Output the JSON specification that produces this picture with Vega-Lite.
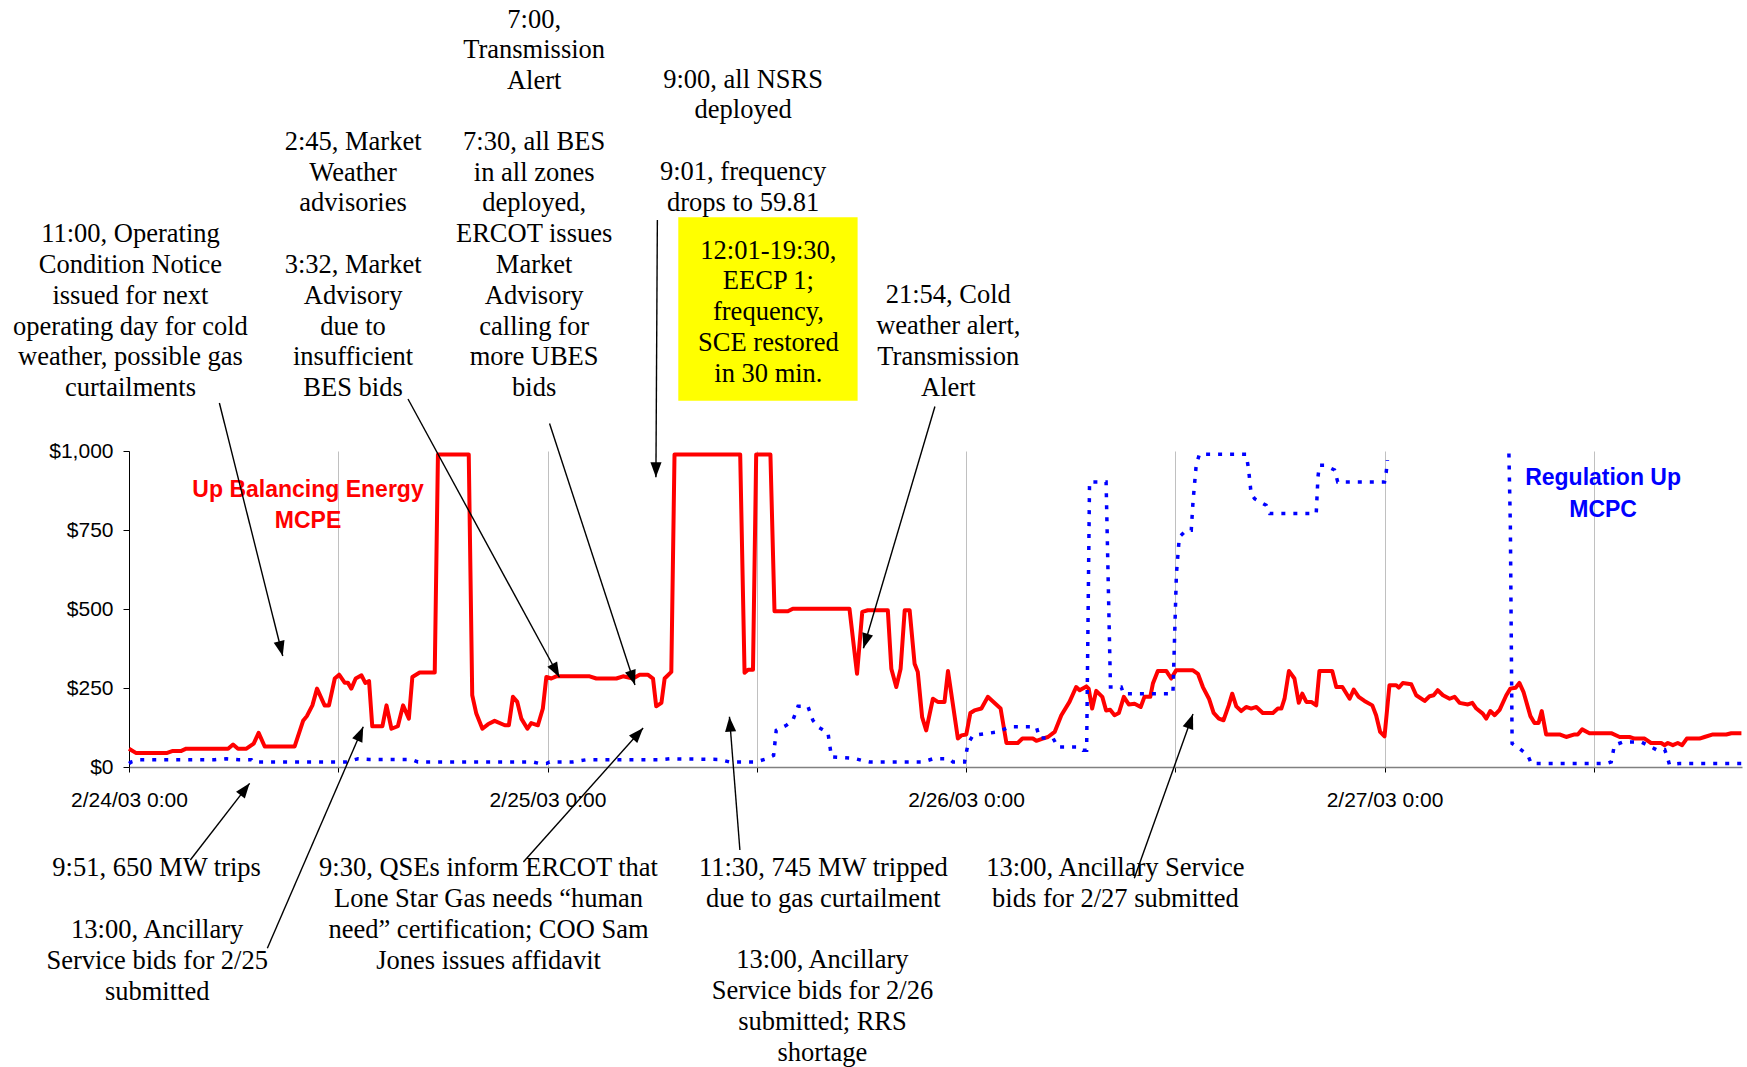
{
  "$schema": "https://vega.github.io/schema/vega-lite/v6.json",
  "autosize": {"type": "none"},
  "padding": {"left": 129, "top": 451, "right": 5, "bottom": 300},
  "width": 1613,
  "height": 316,
  "background": "white",
  "config": {"view": {"stroke": null}},
  "datasets": {
    "upBalancingEnergyMCPE": [
      {"time":"2003-02-24T00:00","price":58},{"time":"2003-02-24T00:25","price":44},{"time":"2003-02-24T02:09","price":44},{"time":"2003-02-24T02:31","price":51},{"time":"2003-02-24T03:00","price":51},{"time":"2003-02-24T03:17","price":58},{"time":"2003-02-24T05:41","price":58},{"time":"2003-02-24T05:58","price":71},{"time":"2003-02-24T06:15","price":58},{"time":"2003-02-24T06:44","price":58},{"time":"2003-02-24T07:09","price":74},{"time":"2003-02-24T07:26","price":108},{"time":"2003-02-24T07:47","price":65},{"time":"2003-02-24T09:30","price":65},{"time":"2003-02-24T09:59","price":146},{"time":"2003-02-24T10:12","price":161},{"time":"2003-02-24T10:31","price":195},{"time":"2003-02-24T10:47","price":248},{"time":"2003-02-24T11:13","price":195},{"time":"2003-02-24T11:28","price":195},{"time":"2003-02-24T11:48","price":280},{"time":"2003-02-24T12:03","price":292},{"time":"2003-02-24T12:22","price":267},{"time":"2003-02-24T12:33","price":267},{"time":"2003-02-24T12:45","price":248},{"time":"2003-02-24T13:00","price":280},{"time":"2003-02-24T13:20","price":290},{"time":"2003-02-24T13:33","price":266},{"time":"2003-02-24T13:46","price":272},{"time":"2003-02-24T13:57","price":129},{"time":"2003-02-24T14:32","price":129},{"time":"2003-02-24T14:46","price":195},{"time":"2003-02-24T15:03","price":121},{"time":"2003-02-24T15:25","price":129},{"time":"2003-02-24T15:43","price":195},{"time":"2003-02-24T16:03","price":153},{"time":"2003-02-24T16:15","price":285},{"time":"2003-02-24T16:40","price":299},{"time":"2003-02-24T17:32","price":299},{"time":"2003-02-24T17:43","price":989},{"time":"2003-02-24T19:29","price":989},{"time":"2003-02-24T19:41","price":227},{"time":"2003-02-24T19:55","price":169},{"time":"2003-02-24T20:16","price":121},{"time":"2003-02-24T20:35","price":135},{"time":"2003-02-24T20:58","price":146},{"time":"2003-02-24T21:33","price":132},{"time":"2003-02-24T21:47","price":132},{"time":"2003-02-24T22:01","price":222},{"time":"2003-02-24T22:16","price":206},{"time":"2003-02-24T22:30","price":153},{"time":"2003-02-24T22:51","price":121},{"time":"2003-02-24T23:04","price":139},{"time":"2003-02-24T23:27","price":132},{"time":"2003-02-24T23:44","price":185},{"time":"2003-02-24T23:56","price":285},
      {"time":"2003-02-25T00:13","price":280},{"time":"2003-02-25T00:30","price":287},{"time":"2003-02-25T02:25","price":287},{"time":"2003-02-25T02:48","price":280},{"time":"2003-02-25T03:57","price":280},{"time":"2003-02-25T04:20","price":287},{"time":"2003-02-25T04:54","price":280},{"time":"2003-02-25T05:17","price":292},{"time":"2003-02-25T05:45","price":292},{"time":"2003-02-25T06:03","price":280},{"time":"2003-02-25T06:14","price":192},{"time":"2003-02-25T06:32","price":203},{"time":"2003-02-25T06:43","price":280},{"time":"2003-02-25T07:06","price":301},{"time":"2003-02-25T07:17","price":989},{"time":"2003-02-25T11:03","price":989},{"time":"2003-02-25T11:18","price":298},{"time":"2003-02-25T11:30","price":308},{"time":"2003-02-25T11:47","price":308},{"time":"2003-02-25T11:58","price":989},{"time":"2003-02-25T12:47","price":989},{"time":"2003-02-25T13:01","price":493},{"time":"2003-02-25T13:47","price":493},{"time":"2003-02-25T14:04","price":501},{"time":"2003-02-25T17:19","price":501},{"time":"2003-02-25T17:45","price":295},{"time":"2003-02-25T18:03","price":491},{"time":"2003-02-25T18:22","price":496},{"time":"2003-02-25T19:31","price":496},{"time":"2003-02-25T19:43","price":311},{"time":"2003-02-25T20:00","price":253},{"time":"2003-02-25T20:15","price":311},{"time":"2003-02-25T20:29","price":496},{"time":"2003-02-25T20:46","price":496},{"time":"2003-02-25T21:03","price":327},{"time":"2003-02-25T21:14","price":301},{"time":"2003-02-25T21:29","price":158},{"time":"2003-02-25T21:43","price":116},{"time":"2003-02-25T22:06","price":216},{"time":"2003-02-25T22:23","price":206},{"time":"2003-02-25T22:46","price":206},{"time":"2003-02-25T22:58","price":304},{"time":"2003-02-25T23:32","price":90},{"time":"2003-02-25T23:44","price":100},
      {"time":"2003-02-26T00:01","price":103},{"time":"2003-02-26T00:15","price":171},{"time":"2003-02-26T00:29","price":179},{"time":"2003-02-26T00:53","price":185},{"time":"2003-02-26T01:15","price":222},{"time":"2003-02-26T01:59","price":185},{"time":"2003-02-26T02:19","price":76},{"time":"2003-02-26T02:58","price":76},{"time":"2003-02-26T03:14","price":90},{"time":"2003-02-26T03:50","price":90},{"time":"2003-02-26T04:02","price":83},{"time":"2003-02-26T04:24","price":90},{"time":"2003-02-26T04:42","price":95},{"time":"2003-02-26T05:05","price":111},{"time":"2003-02-26T05:28","price":164},{"time":"2003-02-26T05:56","price":206},{"time":"2003-02-26T06:19","price":253},{"time":"2003-02-26T06:31","price":243},{"time":"2003-02-26T06:54","price":255},{"time":"2003-02-26T07:02","price":248},{"time":"2003-02-26T07:14","price":185},{"time":"2003-02-26T07:28","price":241},{"time":"2003-02-26T07:49","price":222},{"time":"2003-02-26T08:02","price":179},{"time":"2003-02-26T08:16","price":181},{"time":"2003-02-26T08:31","price":164},{"time":"2003-02-26T08:46","price":171},{"time":"2003-02-26T09:03","price":222},{"time":"2003-02-26T09:20","price":198},{"time":"2003-02-26T09:40","price":200},{"time":"2003-02-26T10:01","price":190},{"time":"2003-02-26T10:14","price":222},{"time":"2003-02-26T10:34","price":222},{"time":"2003-02-26T10:43","price":264},{"time":"2003-02-26T11:00","price":304},{"time":"2003-02-26T11:29","price":304},{"time":"2003-02-26T11:46","price":280},{"time":"2003-02-26T12:03","price":306},{"time":"2003-02-26T13:01","price":306},{"time":"2003-02-26T13:18","price":295},{"time":"2003-02-26T13:35","price":253},{"time":"2003-02-26T13:56","price":216},{"time":"2003-02-26T14:12","price":171},{"time":"2003-02-26T14:30","price":153},{"time":"2003-02-26T14:46","price":148},{"time":"2003-02-26T15:04","price":195},{"time":"2003-02-26T15:16","price":232},{"time":"2003-02-26T15:30","price":192},{"time":"2003-02-26T15:47","price":177},{"time":"2003-02-26T16:04","price":190},{"time":"2003-02-26T16:21","price":185},{"time":"2003-02-26T16:39","price":190},{"time":"2003-02-26T17:01","price":171},{"time":"2003-02-26T17:36","price":171},{"time":"2003-02-26T17:53","price":185},{"time":"2003-02-26T18:05","price":185},{"time":"2003-02-26T18:16","price":216},{"time":"2003-02-26T18:31","price":304},{"time":"2003-02-26T18:50","price":280},{"time":"2003-02-26T19:05","price":203},{"time":"2003-02-26T19:17","price":232},{"time":"2003-02-26T19:31","price":206},{"time":"2003-02-26T19:48","price":206},{"time":"2003-02-26T20:05","price":195},{"time":"2003-02-26T20:16","price":304},{"time":"2003-02-26T21:00","price":304},{"time":"2003-02-26T21:14","price":253},{"time":"2003-02-26T21:35","price":253},{"time":"2003-02-26T22:00","price":216},{"time":"2003-02-26T22:14","price":245},{"time":"2003-02-26T22:31","price":222},{"time":"2003-02-26T22:51","price":209},{"time":"2003-02-26T23:18","price":195},{"time":"2003-02-26T23:31","price":164},{"time":"2003-02-26T23:45","price":111},
      {"time":"2003-02-27T00:00","price":97},{"time":"2003-02-27T00:17","price":259},{"time":"2003-02-27T00:40","price":259},{"time":"2003-02-27T00:49","price":251},{"time":"2003-02-27T01:03","price":266},{"time":"2003-02-27T01:32","price":262},{"time":"2003-02-27T01:49","price":227},{"time":"2003-02-27T02:18","price":209},{"time":"2003-02-27T02:35","price":224},{"time":"2003-02-27T02:49","price":227},{"time":"2003-02-27T03:03","price":243},{"time":"2003-02-27T03:21","price":227},{"time":"2003-02-27T03:44","price":216},{"time":"2003-02-27T04:01","price":222},{"time":"2003-02-27T04:18","price":203},{"time":"2003-02-27T04:47","price":198},{"time":"2003-02-27T05:02","price":203},{"time":"2003-02-27T05:16","price":185},{"time":"2003-02-27T05:38","price":169},{"time":"2003-02-27T05:50","price":153},{"time":"2003-02-27T06:04","price":177},{"time":"2003-02-27T06:19","price":164},{"time":"2003-02-27T06:36","price":181},{"time":"2003-02-27T06:59","price":227},{"time":"2003-02-27T07:13","price":248},{"time":"2003-02-27T07:31","price":251},{"time":"2003-02-27T07:44","price":266},{"time":"2003-02-27T07:58","price":238},{"time":"2003-02-27T08:22","price":161},{"time":"2003-02-27T08:36","price":139},{"time":"2003-02-27T08:50","price":139},{"time":"2003-02-27T09:01","price":177},{"time":"2003-02-27T09:16","price":103},{"time":"2003-02-27T10:02","price":103},{"time":"2003-02-27T10:25","price":95},{"time":"2003-02-27T10:54","price":103},{"time":"2003-02-27T11:05","price":103},{"time":"2003-02-27T11:20","price":119},{"time":"2003-02-27T11:45","price":107},{"time":"2003-02-27T13:00","price":107},{"time":"2003-02-27T13:29","price":95},{"time":"2003-02-27T14:03","price":95},{"time":"2003-02-27T14:20","price":90},{"time":"2003-02-27T14:55","price":90},{"time":"2003-02-27T15:17","price":76},{"time":"2003-02-27T15:52","price":76},{"time":"2003-02-27T16:04","price":69},{"time":"2003-02-27T16:15","price":76},{"time":"2003-02-27T16:32","price":69},{"time":"2003-02-27T16:49","price":76},{"time":"2003-02-27T17:04","price":69},{"time":"2003-02-27T17:20","price":90},{"time":"2003-02-27T18:04","price":90},{"time":"2003-02-27T18:21","price":95},{"time":"2003-02-27T18:50","price":103},{"time":"2003-02-27T19:36","price":103},{"time":"2003-02-27T19:53","price":107},{"time":"2003-02-27T20:28","price":107}
    ],
    "regulationUpMCPC": [
      {"time":"2003-02-24T00:00","price":11},{"time":"2003-02-24T00:08","price":16},{"time":"2003-02-24T00:37","price":23},{"time":"2003-02-24T04:55","price":23},{"time":"2003-02-24T05:35","price":26},{"time":"2003-02-24T06:18","price":23},{"time":"2003-02-24T07:01","price":23},{"time":"2003-02-24T07:07","price":16},{"time":"2003-02-24T12:28","price":16},{"time":"2003-02-24T13:08","price":26},{"time":"2003-02-24T13:48","price":24},{"time":"2003-02-24T16:13","price":24},{"time":"2003-02-24T16:34","price":16},{"time":"2003-02-24T23:09","price":16},{"time":"2003-02-24T23:33","price":11},{"time":"2003-02-24T23:56","price":11},
      {"time":"2003-02-25T00:07","price":16},{"time":"2003-02-25T01:26","price":16},{"time":"2003-02-25T02:14","price":23},{"time":"2003-02-25T06:26","price":23},{"time":"2003-02-25T07:00","price":26},{"time":"2003-02-25T09:52","price":24},{"time":"2003-02-25T10:26","price":16},{"time":"2003-02-25T11:58","price":16},{"time":"2003-02-25T12:33","price":26},{"time":"2003-02-25T12:58","price":37},{"time":"2003-02-25T13:07","price":116},{"time":"2003-02-25T13:42","price":132},{"time":"2003-02-25T14:04","price":148},{"time":"2003-02-25T14:22","price":192},{"time":"2003-02-25T14:56","price":192},{"time":"2003-02-25T15:13","price":148},{"time":"2003-02-25T15:30","price":127},{"time":"2003-02-25T16:05","price":108},{"time":"2003-02-25T16:17","price":32},{"time":"2003-02-25T17:31","price":28},{"time":"2003-02-25T18:11","price":19},{"time":"2003-02-25T18:28","price":16},{"time":"2003-02-25T21:32","price":16},{"time":"2003-02-25T22:06","price":26},{"time":"2003-02-25T23:03","price":26},{"time":"2003-02-25T23:15","price":16},{"time":"2003-02-25T23:55","price":16},
      {"time":"2003-02-26T00:07","price":74},{"time":"2003-02-26T00:24","price":100},{"time":"2003-02-26T01:10","price":106},{"time":"2003-02-26T01:50","price":111},{"time":"2003-02-26T02:30","price":127},{"time":"2003-02-26T04:02","price":127},{"time":"2003-02-26T04:13","price":92},{"time":"2003-02-26T04:59","price":92},{"time":"2003-02-26T05:16","price":63},{"time":"2003-02-26T06:31","price":63},{"time":"2003-02-26T06:42","price":53},{"time":"2003-02-26T06:55","price":53},{"time":"2003-02-26T07:05","price":902},{"time":"2003-02-26T08:02","price":902},{"time":"2003-02-26T08:17","price":253},{"time":"2003-02-26T08:54","price":253},{"time":"2003-02-26T09:02","price":232},{"time":"2003-02-26T11:52","price":232},{"time":"2003-02-26T12:04","price":612},{"time":"2003-02-26T12:14","price":728},{"time":"2003-02-26T12:38","price":749},{"time":"2003-02-26T12:55","price":749},{"time":"2003-02-26T13:01","price":839},{"time":"2003-02-26T13:12","price":955},{"time":"2003-02-26T13:23","price":990},{"time":"2003-02-26T16:04","price":990},{"time":"2003-02-26T16:12","price":944},{"time":"2003-02-26T16:21","price":865},{"time":"2003-02-26T16:33","price":849},{"time":"2003-02-26T17:13","price":828},{"time":"2003-02-26T17:25","price":802},{"time":"2003-02-26T20:05","price":802},{"time":"2003-02-26T20:11","price":918},{"time":"2003-02-26T20:16","price":955},{"time":"2003-02-26T20:33","price":955},{"time":"2003-02-26T21:08","price":940},{"time":"2003-02-26T21:19","price":902},
      {"time":"2003-02-27T00:00","price":902},{"time":"2003-02-27T00:06","price":934},{"time":"2003-02-27T00:10","price":971},{"time":"2003-02-27T03:00","price":null},{"time":"2003-02-27T07:08","price":992},{"time":"2003-02-27T07:13","price":760},{"time":"2003-02-27T07:19","price":74},{"time":"2003-02-27T07:38","price":63},{"time":"2003-02-27T08:13","price":37},{"time":"2003-02-27T08:25","price":11},{"time":"2003-02-27T12:43","price":11},{"time":"2003-02-27T13:00","price":16},{"time":"2003-02-27T13:11","price":69},{"time":"2003-02-27T13:40","price":79},{"time":"2003-02-27T14:43","price":79},{"time":"2003-02-27T15:06","price":69},{"time":"2003-02-27T15:35","price":55},{"time":"2003-02-27T16:04","price":55},{"time":"2003-02-27T16:15","price":26},{"time":"2003-02-27T16:20","price":8},{"time":"2003-02-27T16:55","price":11},{"time":"2003-02-27T20:28","price":11}
    ],
    "eecpBox": [
      {"time":"2003-02-25T07:30","time2":"2003-02-25T17:47","price":1739.6,"price2":1159.2}
    ],
    "seriesLabels": [
      {"time":"2003-02-24T10:16","price":855,"series":"Up Balancing Energy MCPE","label":"Up Balancing Energy\nMCPE"},
      {"time":"2003-02-27T12:32","price":892,"series":"Regulation Up MCPC","label":"Regulation Up\nMCPC"}
    ],
    "notes": [
      {"time":"2003-02-24T00:05","price":1661,"note":"11:00, Operating\nCondition Notice\nissued for next\noperating day for cold\nweather, possible gas\ncurtailments"},
      {"time":"2003-02-24T23:14","price":2340,"note":"7:00,\nTransmission\nAlert"},
      {"time":"2003-02-24T12:51","price":1953,"note":"2:45, Market\nWeather\nadvisories"},
      {"time":"2003-02-24T12:51","price":1563,"note":"3:32, Market\nAdvisory\ndue to\ninsufficient\nBES bids"},
      {"time":"2003-02-24T23:14","price":1953,"note":"7:30, all BES\nin all zones\ndeployed,\nERCOT issues\nMarket\nAdvisory\ncalling for\nmore UBES\nbids"},
      {"time":"2003-02-25T11:13","price":2150,"note":"9:00, all NSRS\ndeployed"},
      {"time":"2003-02-25T11:13","price":1858,"note":"9:01, frequency\ndrops to 59.81"},
      {"time":"2003-02-25T12:40","price":1609,"note":"12:01-19:30,\nEECP 1;\nfrequency,\nSCE restored\nin 30 min."},
      {"time":"2003-02-25T22:59","price":1468,"note":"21:54, Cold\nweather alert,\nTransmission\nAlert"},
      {"time":"2003-02-24T01:35","price":-346,"note":"9:51, 650 MW trips"},
      {"time":"2003-02-24T01:37","price":-542,"note":"13:00, Ancillary\nService bids for 2/25\nsubmitted"},
      {"time":"2003-02-24T20:37","price":-346,"note":"9:30, QSEs inform ERCOT that\nLone Star Gas needs “human\nneed” certification; COO Sam\nJones issues affidavit"},
      {"time":"2003-02-25T15:49","price":-346,"note":"11:30, 745 MW tripped\ndue to gas curtailment"},
      {"time":"2003-02-25T15:46","price":-637,"note":"13:00, Ancillary\nService bids for 2/26\nsubmitted; RRS\nshortage"},
      {"time":"2003-02-26T08:34","price":-346,"note":"13:00, Ancillary Service\nbids for 2/27 submitted"}
    ],
    "arrows": [
      {"time":"2003-02-24T05:11","price":1151.9,"time2":"2003-02-24T08:49","price2":351.3},
      {"time":"2003-02-24T16:00","price":1164.6,"time2":"2003-02-25T00:41","price2":283.9},
      {"time":"2003-02-25T00:07","price":1087.3,"time2":"2003-02-25T05:01","price2":259.5},
      {"time":"2003-02-25T06:18","price":1731,"time2":"2003-02-25T06:13","price2":916.8},
      {"time":"2003-02-25T22:13","price":1140.8,"time2":"2003-02-25T18:07","price2":375.6},
      {"time":"2003-02-24T03:31","price":-294.3,"time2":"2003-02-24T06:55","price2":-51.6},
      {"time":"2003-02-24T07:56","price":-573.7,"time2":"2003-02-24T13:26","price2":127.5},
      {"time":"2003-02-24T22:37","price":-300.6,"time2":"2003-02-25T05:29","price2":123.4},
      {"time":"2003-02-25T11:02","price":-262.7,"time2":"2003-02-25T10:26","price2":159.2},
      {"time":"2003-02-26T09:39","price":-352.2,"time2":"2003-02-26T13:01","price2":167.7}
    ]
  },
  "layer": [
    {
      "data": {"name": "eecpBox"},
      "mark": {"type": "rect", "color": "#ffff00", "opacity": 1},
      "encoding": {
        "x": {"field": "time", "type": "temporal", "title": null},
        "x2": {"field": "time2"},
        "y": {"field": "price", "type": "quantitative", "title": null},
        "y2": {"field": "price2"}
      }
    },
    {
      "data": {"name": "upBalancingEnergyMCPE"},
      "mark": {"type": "line", "color": "#ff0000", "strokeWidth": 4, "strokeJoin": "round"},
      "encoding": {
        "x": {
          "field": "time", "type": "temporal", "title": null,
          "scale": {"type": "time", "domain": [{"year": 2003, "month": 2, "date": 24, "hours": 0, "minutes": 0}, {"year": 2003, "month": 2, "date": 27, "hours": 20, "minutes": 30}], "nice": false},
          "axis": {
            "values": [
              {"year": 2003, "month": 2, "date": 24, "hours": 0},
              {"year": 2003, "month": 2, "date": 24, "hours": 12},
              {"year": 2003, "month": 2, "date": 25, "hours": 0},
              {"year": 2003, "month": 2, "date": 25, "hours": 12},
              {"year": 2003, "month": 2, "date": 26, "hours": 0},
              {"year": 2003, "month": 2, "date": 26, "hours": 12},
              {"year": 2003, "month": 2, "date": 27, "hours": 0},
              {"year": 2003, "month": 2, "date": 27, "hours": 12}
            ],
            "labelExpr": "hours(datum.value) == 0 ? timeFormat(datum.value, '%-m/%-d/%y %-H:%M') : ''",
            "grid": true, "gridColor": "#c0c0c0", "gridWidth": 1,
            "tickSize": 5, "tickColor": "#000000", "domainColor": "#808080", "domainWidth": 1.3,
            "labelFont": "Liberation Sans", "labelFontSize": 21, "labelColor": "#000000",
            "labelPadding": 17, "labelFlush": false, "labelOverlap": false, "labelBound": false,
            "title": null
          }
        },
        "y": {
          "field": "price", "type": "quantitative", "title": null,
          "scale": {"domain": [0, 1000], "nice": false, "zero": false},
          "axis": {
            "values": [0, 250, 500, 750, 1000], "format": "$,.0f", "grid": false,
            "tickSize": 6, "tickColor": "#000000", "domainColor": "#000000",
            "labelFont": "Liberation Sans", "labelFontSize": 21, "labelColor": "#000000",
            "labelPadding": 10, "title": null
          }
        }
      }
    },
    {
      "data": {"name": "regulationUpMCPC"},
      "mark": {"type": "line", "color": "#0000ff", "strokeWidth": 3.5, "strokeDash": [4, 8], "strokeCap": "butt", "invalid": "break-paths-filter-domains"},
      "encoding": {
        "x": {"field": "time", "type": "temporal", "title": null},
        "y": {"field": "price", "type": "quantitative", "title": null}
      }
    },
    {
      "data": {"name": "seriesLabels"},
      "mark": {"type": "text", "font": "Liberation Sans", "fontWeight": "bold", "fontSize": 23, "lineHeight": 31.6, "align": "center", "baseline": "alphabetic", "lineBreak": "\n"},
      "encoding": {
        "x": {"field": "time", "type": "temporal", "title": null},
        "y": {"field": "price", "type": "quantitative", "title": null},
        "text": {"field": "label"},
        "color": {"field": "series", "type": "nominal", "scale": {"domain": ["Up Balancing Energy MCPE", "Regulation Up MCPC"], "range": ["#ff0000", "#0000ff"]}, "legend": null}
      }
    },
    {
      "data": {"name": "notes"},
      "mark": {"type": "text", "font": "Liberation Serif", "fontSize": 26.5, "lineHeight": 30.8, "align": "center", "baseline": "alphabetic", "lineBreak": "\n", "color": "#000000"},
      "encoding": {
        "x": {"field": "time", "type": "temporal", "title": null},
        "y": {"field": "price", "type": "quantitative", "title": null},
        "text": {"field": "note"}
      }
    },
    {
      "data": {"name": "arrows"},
      "mark": {"type": "rule", "color": "#000000", "strokeWidth": 1.4},
      "encoding": {
        "x": {"field": "time", "type": "temporal", "title": null},
        "y": {"field": "price", "type": "quantitative", "title": null},
        "x2": {"field": "time2"},
        "y2": {"field": "price2"}
      }
    },
    {
      "data": {"name": "arrows"},
      "transform": [
        {"calculate": "atan2((toDate(datum.time2) - toDate(datum.time)) / 3600000 * 17.4378, (datum.price2 - datum.price) * 0.316) * 180 / PI", "as": "heading"}
      ],
      "mark": {"type": "point", "shape": "M0,0L-0.37,1L0.37,1Z", "size": 900, "filled": true, "color": "#000000", "opacity": 1, "strokeWidth": 0},
      "encoding": {
        "x": {"field": "time2", "type": "temporal", "title": null},
        "y": {"field": "price2", "type": "quantitative", "title": null},
        "angle": {"field": "heading", "type": "quantitative", "scale": null}
      }
    }
  ]
}
